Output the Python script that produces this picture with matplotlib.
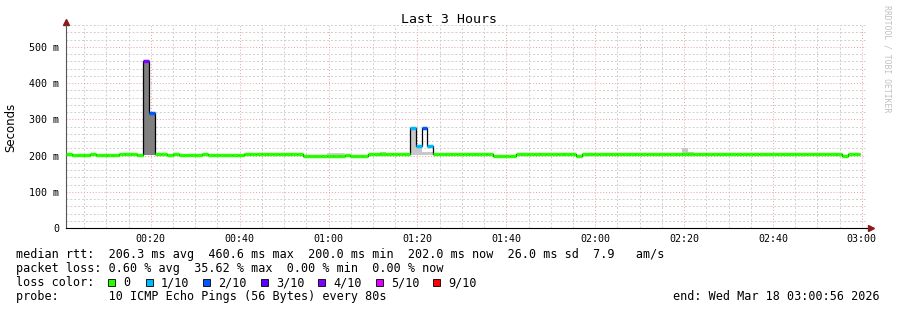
import numpy as np
import matplotlib
matplotlib.use("Agg")
import matplotlib.pyplot as plt
import matplotlib.dates as mdates
from matplotlib.patches import Rectangle
from matplotlib.ticker import MultipleLocator, FuncFormatter
from datetime import datetime, timedelta

plt.rcParams['font.family'] = 'DejaVu Sans Mono'

# --- data: 80 s steps from 00:00:56 to 03:00:56 ---
START = datetime(2026, 3, 18, 0, 0, 56)
STEP_S = 80

# median rtt (ms), run-length encoded as (steps, value)
run_len = [1, 3, 1, 4, 1, 1, 1, 1, 1, 1, 2, 1, 1, 4, 1, 6, 10, 7, 1, 3, 7,
           1, 1, 1, 1, 10, 4, 10, 1, 44, 1, 2, 1]
run_ms = [203, 201, 203, 201, 203, 205, 203, 201, 460, 318,
          203, 201, 203, 201, 203, 201, 203, 200, 202, 200,
          203, 276, 226, 277, 225, 203, 200, 203, 200, 203,
          200, 203, np.nan]

# steps with packet loss (lost pings out of 10)
loss_step = [13, 14, 58, 59, 60, 61]
loss_pings = [4, 2, 1, 1, 2, 1]

# visible smoke (ping spread) per step
smoke_step = [10, 13, 14, 44, 45, 46, 53, 58, 59, 60, 61, 71, 80, 84, 104, 105]
smoke_lo = [201, 201, 201, 200, 200, 200, 202, 201, 201, 201, 201, 202, 202, 202, 202, 202]
smoke_hi = [206, 455, 316, 206, 206, 206, 210, 276, 226, 210, 210, 207, 207, 207, 220, 209]
smoke_col = ['#c8c8c8', '#808080', '#808080', '#d0d0d0', '#d0d0d0', '#d0d0d0', '#c8c8c8',
             '#c8c8c8', '#c8c8c8', '#c8c8c8', '#c8c8c8', '#c8c8c8', '#c8c8c8', '#c8c8c8',
             '#c8c8c8', '#c8c8c8']

loss_labels = ['0', '1/10', '2/10', '3/10', '4/10', '5/10', '9/10']
loss_levels = [0, 1, 2, 3, 4, 5, 9]
loss_colors = ['#26ff00', '#00b8ff', '#0059ff', '#5e00ff', '#7e00ff', '#dd00ff', '#ff0000']

stats_lines = [
    "median rtt:  206.3 ms avg  460.6 ms max  200.0 ms min  202.0 ms now  26.0 ms sd  7.9   am/s",
    "packet loss: 0.60 % avg  35.62 % max  0.00 % min  0.00 % now",
    "loss color:",
    "probe:       10 ICMP Echo Pings (56 Bytes) every 80s",
]
end_text = "end: Wed Mar 18 03:00:56 2026"

# --- build series ---
median = np.repeat(np.array(run_ms, dtype=float), run_len)
n = len(median)
edges = mdates.date2num([START + timedelta(seconds=STEP_S * i) for i in range(n + 1)])
step_w = edges[1] - edges[0]
loss = np.zeros(n, dtype=int)
loss[loss_step] = loss_pings

W, H = 897, 310
fig = plt.figure(figsize=(W / 100, H / 100), dpi=100)
ax = fig.add_axes([66 / W, 1 - 228 / H, 800 / W, 203 / H])

# smoke
for s, lo, hi, c in zip(smoke_step, smoke_lo, smoke_hi, smoke_col):
    ax.bar(edges[s], hi - lo, bottom=lo, width=step_w, align='edge', color=c, lw=0, zorder=1)

# black median step line underneath
ax.stairs(median, edges, color='black', lw=0.9, zorder=2, baseline=None)

# loss-coloured median segments
seg_col = [loss_colors[loss_levels.index(l)] for l in loss]
ok = ~np.isnan(median)
ax.hlines(median[ok], edges[:-1][ok], edges[1:][ok], colors=np.array(seg_col)[ok],
          lw=2.5, zorder=3)

# axes, ticks, grid
ax.set_xlim(edges[0], edges[-1])
ax.set_ylim(0, 560)
ax.xaxis.set_major_locator(mdates.MinuteLocator(byminute=[0, 20, 40]))
ax.xaxis.set_minor_locator(mdates.MinuteLocator(byminute=range(0, 60, 5)))
ax.xaxis.set_major_formatter(mdates.DateFormatter('%H:%M'))
ax.yaxis.set_major_locator(MultipleLocator(100))
ax.yaxis.set_minor_locator(MultipleLocator(20))
ax.yaxis.set_major_formatter(FuncFormatter(lambda v, _: '0' if v == 0 else f'{int(v)} m'))
ax.set_axisbelow(True)
ax.grid(which='minor', color='#cfcfcf', ls=(0, (2, 2)), lw=0.7)
ax.grid(which='major', color='#eaa0a0', ls=(0, (1, 2)), lw=0.7)
ax.tick_params(which='both', length=0, labelsize=7.2)
ax.tick_params(axis='x', pad=4)
ax.tick_params(axis='y', pad=5)
for sp in ['top', 'right']:
    ax.spines[sp].set_visible(False)
ax.spines['left'].set_color('#555555')
ax.spines['left'].set_linewidth(0.8)
ax.spines['bottom'].set_color('black')
ax.spines['bottom'].set_linewidth(0.8)

# axis arrows
ax.plot([edges[-1], edges[-1] + 5 * step_w / 6], [0, 0], color='black', lw=0.8, clip_on=False)
ax.plot([edges[-1] + 5 * step_w / 6], [0], marker='>', color='#8b1a1a', ms=4, clip_on=False)
ax.plot([edges[0]], [567], marker='^', color='#8b1a1a', ms=4, clip_on=False)

# texts
fig.text(0.5, 1 - 23 / H, "Last 3 Hours", ha='center', va='baseline', fontsize=9.5)
fig.text(11 / W, 1 - 127 / H, "Seconds", rotation=90, ha='center', va='center',
         fontsize=8.5, family='DejaVu Sans')
fig.text(887 / W, 1 - 59 / H, "RRDTOOL / TOBI OETIKER", rotation=-90, ha='center',
         va='center', fontsize=5.9, color='#c0c0c0')

for i, line in enumerate(stats_lines):
    fig.text(16 / W, 1 - (258 + 14 * i) / H, line, ha='left', va='baseline', fontsize=8.5)
fig.text(880 / W, 1 - 300 / H, end_text, ha='right', va='baseline', fontsize=8.5)

box_x = [108, 146, 203, 261, 318, 376, 433]
for bx, c, lab in zip(box_x, loss_colors, loss_labels):
    fig.add_artist(Rectangle((bx / W, 1 - 286 / H), 7 / W, 7 / H, transform=fig.transFigure,
                             facecolor=c, edgecolor='black', lw=0.6))
    fig.text((bx + 15) / W, 1 - 286 / H, lab, ha='left', va='baseline', fontsize=8.5)

fig.savefig('out.png', dpi=100)
